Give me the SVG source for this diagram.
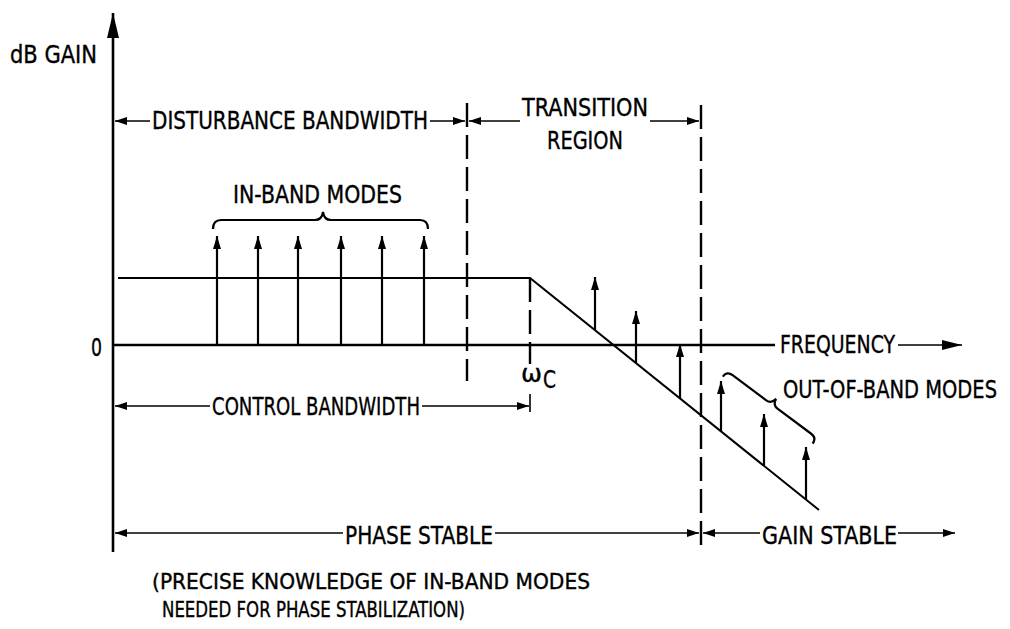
<svg xmlns="http://www.w3.org/2000/svg" width="1010" height="629" viewBox="0 0 1010 629">
  <style>
    text { font-family: "DejaVu Sans Condensed", "DejaVu Sans", "Liberation Sans", sans-serif; font-stretch: condensed; font-size: 24px; fill: #000; stroke: #000; stroke-width: 0.35; }
    .note { font-size: 22px; }
    .axis { stroke: #000; stroke-width: 2.6; fill: none; }
    .curve { stroke: #000; stroke-width: 2; fill: none; }
    .dash { stroke: #000; stroke-width: 2.4; fill: none; stroke-dasharray: 24 8; }
    .dim { stroke: #000; stroke-width: 1.6; fill: none; }
    .mode { stroke: #000; stroke-width: 2.2; fill: none; marker-end: url(#modeHead); }
    .brace { stroke: #000; stroke-width: 2.2; fill: none; }
  </style>
  <defs>
    <marker id="dimHead" markerUnits="userSpaceOnUse" viewBox="0 0 12 8" refX="12" refY="4" markerWidth="12" markerHeight="8" orient="auto-start-reverse">
      <path d="M0,0 L12,4 L0,8 z" fill="#000"/>
    </marker>
    <marker id="modeHead" markerUnits="userSpaceOnUse" viewBox="0 0 13 8" refX="13" refY="4" markerWidth="13" markerHeight="8" orient="auto">
      <path d="M0,0 L13,4 L0,8 z" fill="#000"/>
    </marker>
    <marker id="bigHead" markerUnits="userSpaceOnUse" viewBox="0 0 20 10" refX="20" refY="5" markerWidth="20" markerHeight="10" orient="auto">
      <path d="M0,0 L20,5 L0,10 z" fill="#000"/>
    </marker>
    <marker id="axisHead" markerUnits="userSpaceOnUse" viewBox="0 0 25 12" refX="25" refY="6" markerWidth="25" markerHeight="12" orient="auto">
      <path d="M0,0 L25,6 L0,12 z" fill="#000"/>
    </marker>
  </defs>

  <g id="axes">
    <line class="axis" x1="113" y1="552" x2="113" y2="13" marker-end="url(#axisHead)"/>
    <line class="axis" x1="113" y1="345" x2="775" y2="345"/>
    <text x="10" y="63" textLength="87" lengthAdjust="spacingAndGlyphs">dB GAIN</text>
    <text x="91" y="356" textLength="11" lengthAdjust="spacingAndGlyphs">0</text>
  </g>

  <g id="frequency-label">
    <text x="780" y="353" textLength="115" lengthAdjust="spacingAndGlyphs">FREQUENCY</text>
    <line class="dim" x1="898" y1="345" x2="962" y2="345" marker-end="url(#bigHead)"/>
  </g>

  <g id="gain-curve">
    <polyline class="curve" points="118,278 530,278 819,510"/>
  </g>

  <g id="dashed-boundaries">
    <line class="dash" x1="467" y1="103" x2="467" y2="381"/>
    <line class="dash" x1="701" y1="105" x2="701" y2="547"/>
    <line class="dash" x1="530" y1="278" x2="530" y2="364"/>
    <line class="dim" x1="530" y1="394" x2="530" y2="412" stroke-width="2.2"/>
  </g>

  <g id="omega-c">
    <text x="521" y="382" font-size="28" textLength="21" lengthAdjust="spacingAndGlyphs">ω</text>
    <text x="543" y="388" textLength="13" lengthAdjust="spacingAndGlyphs">C</text>
  </g>

  <g id="disturbance-bandwidth">
    <line class="dim" x1="150" y1="121" x2="115" y2="121" marker-end="url(#dimHead)"/>
    <text x="152" y="129" textLength="276" lengthAdjust="spacingAndGlyphs">DISTURBANCE BANDWIDTH</text>
    <line class="dim" x1="430" y1="121" x2="465" y2="121" marker-end="url(#dimHead)"/>
  </g>

  <g id="transition-region">
    <line class="dim" x1="520" y1="121" x2="469" y2="121" marker-end="url(#dimHead)"/>
    <text x="522" y="116" textLength="126" lengthAdjust="spacingAndGlyphs">TRANSITION</text>
    <text x="547" y="149" textLength="76" lengthAdjust="spacingAndGlyphs">REGION</text>
    <line class="dim" x1="650" y1="121" x2="699" y2="121" marker-end="url(#dimHead)"/>
  </g>

  <g id="in-band-modes">
    <text x="233" y="203" textLength="169" lengthAdjust="spacingAndGlyphs">IN-BAND MODES</text>
    <path class="brace" d="M213,229 Q213,220 221,220 L315,220 Q322,220 323,212 Q324,220 331,220 L420,220 Q428,220 428,229"/>
    <line class="mode" x1="217" y1="345" x2="217" y2="236"/>
    <line class="mode" x1="258" y1="345" x2="258" y2="236"/>
    <line class="mode" x1="298" y1="345" x2="298" y2="236"/>
    <line class="mode" x1="341" y1="345" x2="341" y2="236"/>
    <line class="mode" x1="382" y1="345" x2="382" y2="236"/>
    <line class="mode" x1="424" y1="345" x2="424" y2="236"/>
  </g>

  <g id="transition-modes">
    <line class="mode" x1="595" y1="330" x2="595" y2="277"/>
    <line class="mode" x1="636" y1="363" x2="636" y2="311"/>
    <line class="mode" x1="680" y1="398" x2="680" y2="344"/>
  </g>

  <g id="out-of-band-modes">
    <line class="mode" x1="721" y1="431" x2="721" y2="381"/>
    <line class="mode" x1="764" y1="465" x2="764" y2="414"/>
    <line class="mode" x1="806" y1="499" x2="806" y2="447"/>
    <path class="brace" transform="translate(727,371) rotate(36.7)" d="M0,7 Q0,0 7,0 L49,0 Q55,0 56,-7 Q57,0 63,0 L105,0 Q112,0 112,7"/>
    <text x="783" y="398" font-size="19" textLength="214" lengthAdjust="spacingAndGlyphs">OUT-OF-BAND MODES</text>
  </g>

  <g id="control-bandwidth">
    <line class="dim" x1="210" y1="406" x2="115" y2="406" marker-end="url(#dimHead)"/>
    <text x="212" y="415" textLength="208" lengthAdjust="spacingAndGlyphs">CONTROL BANDWIDTH</text>
    <line class="dim" x1="422" y1="406" x2="529" y2="406" marker-end="url(#dimHead)"/>
  </g>

  <g id="phase-stable">
    <line class="dim" x1="343" y1="533" x2="115" y2="533" marker-end="url(#dimHead)"/>
    <text x="345" y="544" textLength="148" lengthAdjust="spacingAndGlyphs">PHASE STABLE</text>
    <line class="dim" x1="495" y1="533" x2="699" y2="533" marker-end="url(#dimHead)"/>
  </g>

  <g id="gain-stable">
    <line class="dim" x1="760" y1="533" x2="703" y2="533" marker-end="url(#dimHead)"/>
    <text x="762" y="544" textLength="135" lengthAdjust="spacingAndGlyphs">GAIN STABLE</text>
    <line class="dim" x1="898" y1="533" x2="955" y2="533" marker-end="url(#dimHead)"/>
  </g>

  <g id="note">
    <text class="note" x="152" y="589" textLength="438" lengthAdjust="spacingAndGlyphs">(PRECISE KNOWLEDGE OF IN-BAND MODES</text>
    <text class="note" x="162" y="617" textLength="303" lengthAdjust="spacingAndGlyphs">NEEDED FOR PHASE STABILIZATION)</text>
  </g>
</svg>
